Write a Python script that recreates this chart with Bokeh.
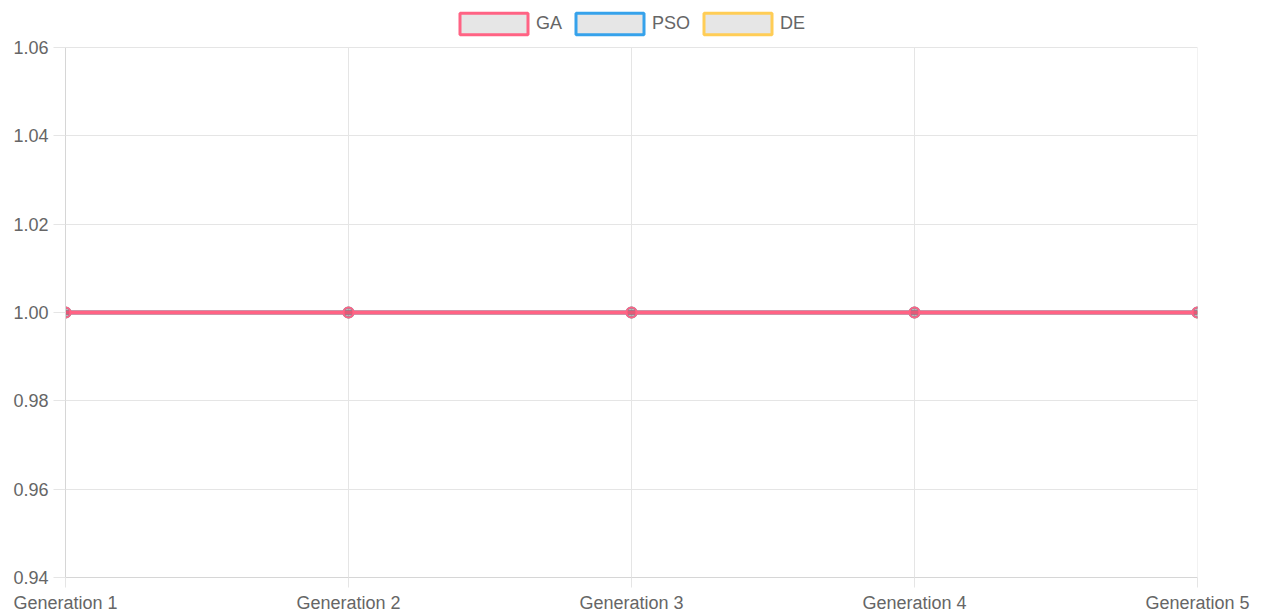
from bokeh.plotting import figure
from bokeh.models import FixedTicker, Legend, LegendItem, Range1d
from bokeh.embed import file_html
from bokeh.resources import INLINE

# ---- data ----
generations = ["Generation 1", "Generation 2", "Generation 3", "Generation 4", "Generation 5"]
ga_values = [1.0, 1.0, 1.0, 1.0, 1.0]
pso_values = [1.0, 1.0, 1.0, 1.0, 1.0]
de_values = [1.0, 1.0, 1.0, 1.0, 1.0]
y_ticks = [0.94, 0.96, 0.98, 1.00, 1.02, 1.04, 1.06]

series = [
    ("GA", ga_values, "#ff6384"),
    ("PSO", pso_values, "#36a2eb"),
    ("DE", de_values, "#ffcd56"),
]

xs = list(range(len(generations)))
FONT = "Liberation Sans"
TEXT = "#666666"
GRID = "#e5e5e5"

# frame reaches the top of the canvas so that the legend (drawn inside the frame) is not clipped;
# the extra headroom above 1.06 holds the legend
Y_TOP = 1.0706

p = figure(width=1263, height=615, output_backend="svg", toolbar_location=None,
           x_range=Range1d(xs[0], xs[-1]), y_range=Range1d(y_ticks[0], Y_TOP),
           min_border_left=65, min_border_right=66, min_border_bottom=38, min_border_top=0)
p.outline_line_color = None
p.background_fill_color = "white"
p.border_fill_color = "white"

# axes
p.xaxis.ticker = FixedTicker(ticks=xs)
p.xaxis.major_label_overrides = {i: g for i, g in enumerate(generations)}
p.yaxis.ticker = FixedTicker(ticks=y_ticks)
p.yaxis.major_label_overrides = {t: f"{t:.2f}" for t in y_ticks}
p.yaxis.bounds = (y_ticks[0], y_ticks[-1])
for ax in (p.xaxis[0], p.yaxis[0]):
    ax.axis_line_color = "#d6d6d6"
    ax.major_tick_line_color = GRID
    ax.major_tick_in = 0
    ax.minor_tick_line_color = None
    ax.major_label_text_font = FONT
    ax.major_label_text_font_size = "18px"
    ax.major_label_text_color = TEXT
p.yaxis.major_tick_out = 12
p.yaxis.major_label_standoff = 5
p.xaxis.major_tick_out = 10
p.xaxis.major_label_standoff = 5
p.xaxis.major_label_text_line_height = 1.0

# horizontal grid from the axis; vertical grid lines limited to the 0.94-1.06 band
p.ygrid.ticker = FixedTicker(ticks=y_ticks)
p.ygrid.grid_line_color = GRID
p.xgrid.visible = False
p.segment(x0=xs, y0=[y_ticks[0]] * len(xs), x1=xs, y1=[y_ticks[-1]] * len(xs),
          line_color=GRID, line_width=1, level="underlay")

# draw in reverse order so GA is on top
legend_renderers = {}
for name, vals, color in reversed(series):
    p.line(xs, vals, line_color=color, line_width=4)
    p.scatter(xs, vals, size=10, marker="circle", fill_color="black", fill_alpha=0.1,
              line_color=color, line_width=2)
    legend_renderers[name] = p.quad(left=xs, right=xs, bottom=vals, top=vals,
                                    fill_color="#e6e6e6", line_color=color, line_width=3,
                                    visible=False)

items = [LegendItem(label=name, renderers=[legend_renderers[name]]) for name, _, _ in series]
legend = Legend(items=items, orientation="horizontal", location=(386, 540),
                glyph_width=85, glyph_height=27, label_standoff=-3, spacing=5,
                padding=0, margin=0, border_line_alpha=0, background_fill_alpha=0,
                label_text_font=FONT, label_text_font_size="18px", label_text_color=TEXT,
                click_policy="none")
p.add_layout(legend, "center")

open("out.html", "w").write(file_html(p, INLINE))
